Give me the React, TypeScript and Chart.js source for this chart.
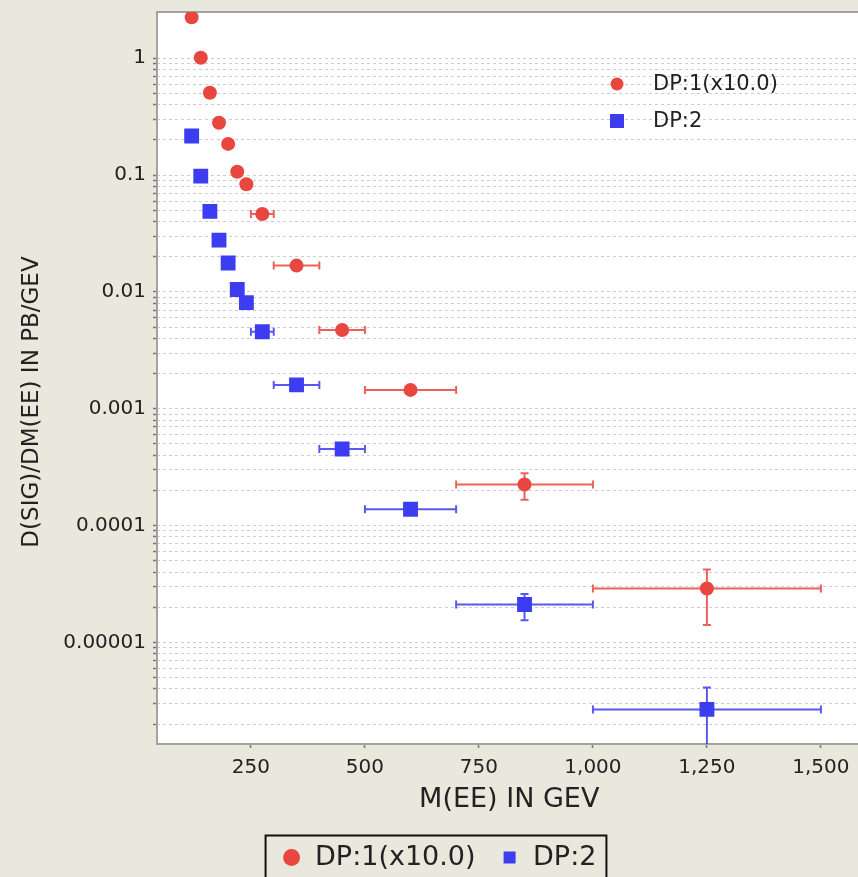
import React, { useEffect, useRef } from 'react';
import { Chart, registerables } from 'chart.js';

Chart.register(...registerables);

// ---- data ----
const massCenters = [120, 140, 160, 180, 200, 220, 240, 275, 350, 450, 600, 850, 1250];
const binLow = [110, 130, 150, 170, 190, 210, 230, 250, 300, 400, 500, 700, 1000];
const binHigh = [130, 150, 170, 190, 210, 230, 250, 300, 400, 500, 700, 1000, 1500];

const dp1Values = [2.24, 1.01, 0.507, 0.281, 0.185, 0.107, 0.0834, 0.0464, 0.0168, 0.00472, 0.00145, 0.000225, 0.0000289];
const dp1Low = [2.24, 1.01, 0.507, 0.281, 0.185, 0.107, 0.0834, 0.0464, 0.0168, 0.00472, 0.00145, 0.000166, 0.0000141];
const dp1High = [2.24, 1.01, 0.507, 0.281, 0.185, 0.107, 0.0834, 0.0464, 0.0168, 0.00472, 0.00145, 0.00028, 0.000042];

const dp2Values = [0.216, 0.098, 0.049, 0.0278, 0.0177, 0.0105, 0.0081, 0.00456, 0.0016, 0.000452, 0.000138, 0.0000211, 0.00000267];
const dp2Low = [0.216, 0.098, 0.049, 0.0278, 0.0177, 0.0105, 0.0081, 0.00456, 0.0016, 0.000452, 0.000138, 0.0000155, 0.000000001];
const dp2High = [0.216, 0.098, 0.049, 0.0278, 0.0177, 0.0105, 0.0081, 0.00456, 0.0016, 0.000452, 0.000138, 0.0000259, 0.00000412];

const seriesLabels = ['DP:1(x10.0)', 'DP:2'];

const xTickValues = [250, 500, 750, 1000, 1250, 1500];
const xTickLabels = ['250', '500', '750', '1,000', '1,250', '1,500'];
const yMajorValues = [1, 0.1, 0.01, 0.001, 0.0001, 0.00001];
const yMajorLabels = ['1', '0.1', '0.01', '0.001', '0.0001', '0.00001'];

const xTitle = 'M(EE) IN GEV';
const yTitle = 'D(SIG)/DM(EE) IN PB/GEV';

// ---- styles ----
const FONT = "'DejaVu Sans', sans-serif";
const BG = '#e9e8dc';
const RED = '#e8473f';
const BLUE = '#3c3cf0';
const RED_ERR = 'rgba(232,71,63,0.85)';
const BLUE_ERR = 'rgba(60,60,240,0.85)';
const GRID = '#cdcdcd';
const TEXT = '#222';

const X_MIN = 44;
const X_MAX = 1589;
const Y_MIN = 1.35e-6;
const Y_MAX = 2.49;

// minor + major log tick positions (1..9 x 10^n), up to 1
const yGridValues: number[] = [];
for (let e = -6; e <= 0; e++) {
  for (let m = 1; m <= 9; m++) {
    const v = parseFloat((m * Math.pow(10, e)).toPrecision(6));
    if (v >= Y_MIN && v <= 1) yGridValues.push(v);
  }
}

const errLows = [dp1Low, dp2Low];
const errHighs = [dp1High, dp2High];
const errColors = [RED_ERR, BLUE_ERR];

const plotFramePlugin = {
  id: 'plotFrame',
  beforeDraw(chart: any) {
    const { ctx, chartArea: a } = chart;
    ctx.save();
    ctx.fillStyle = '#ffffff';
    ctx.fillRect(a.left, a.top, a.right - a.left, a.bottom - a.top);
    ctx.restore();
  },
  beforeDatasetsDraw(chart: any) {
    const { ctx, chartArea: a } = chart;
    ctx.save();
    ctx.strokeStyle = '#a2a2a2';
    ctx.lineWidth = 2;
    ctx.strokeRect(a.left, a.top, a.right - a.left, a.bottom - a.top);
    ctx.restore();
  },
};

const errorBarPlugin = {
  id: 'errorBars',
  beforeDatasetsDraw(chart: any) {
    const { ctx, chartArea: a } = chart;
    const xs = chart.scales.x;
    const ys = chart.scales.y;
    ctx.save();
    ctx.beginPath();
    ctx.rect(a.left, a.top, a.right - a.left, a.bottom - a.top);
    ctx.clip();
    const cap = 4;
    const values = [dp1Values, dp2Values];
    values.forEach((vals, d) => {
      ctx.strokeStyle = errColors[d];
      ctx.lineWidth = 2;
      vals.forEach((v, i) => {
        const py = ys.getPixelForValue(v);
        const px = xs.getPixelForValue(massCenters[i]);
        const x1 = xs.getPixelForValue(binLow[i]);
        const x2 = xs.getPixelForValue(binHigh[i]);
        ctx.beginPath();
        ctx.moveTo(x1, py);
        ctx.lineTo(x2, py);
        ctx.moveTo(x1, py - cap);
        ctx.lineTo(x1, py + cap);
        ctx.moveTo(x2, py - cap);
        ctx.lineTo(x2, py + cap);
        ctx.stroke();
        const lo = errLows[d][i];
        const hi = errHighs[d][i];
        if (lo !== v || hi !== v) {
          const y1 = ys.getPixelForValue(hi);
          const y2 = ys.getPixelForValue(lo);
          ctx.beginPath();
          ctx.moveTo(px, y1);
          ctx.lineTo(px, y2);
          ctx.moveTo(px - cap, y1);
          ctx.lineTo(px + cap, y1);
          ctx.moveTo(px - cap, y2);
          ctx.lineTo(px + cap, y2);
          ctx.stroke();
        }
      });
    });
    ctx.restore();
  },
};

const annotationsPlugin = {
  id: 'annotations',
  afterDraw(chart: any) {
    const { ctx, chartArea: a } = chart;
    ctx.save();
    // y axis title
    ctx.fillStyle = TEXT;
    ctx.font = `23px ${FONT}`;
    ctx.textAlign = 'center';
    ctx.textBaseline = 'middle';
    ctx.translate(32, (a.top + a.bottom) / 2 + 24);
    ctx.rotate(-Math.PI / 2);
    ctx.fillText(yTitle, 0, 0);
    ctx.restore();

    // inner legend
    ctx.save();
    const lx = a.left + 460;
    const ly1 = a.top + 72;
    const ly2 = a.top + 109;
    ctx.fillStyle = RED;
    ctx.beginPath();
    ctx.arc(lx, ly1, 6.5, 0, Math.PI * 2);
    ctx.fill();
    ctx.fillStyle = BLUE;
    ctx.fillRect(lx - 7, ly2 - 7, 14, 14);
    ctx.fillStyle = TEXT;
    ctx.font = `21px ${FONT}`;
    ctx.textAlign = 'left';
    ctx.textBaseline = 'middle';
    ctx.fillText(seriesLabels[0], lx + 36, ly1 + 1);
    ctx.fillText(seriesLabels[1], lx + 36, ly2 + 1);
    ctx.restore();

    // border round the bottom legend
    const lg = chart.legend;
    if (lg && lg.legendHitBoxes && lg.legendHitBoxes.length) {
      const hb = lg.legendHitBoxes;
      const first = hb[0];
      const last = hb[hb.length - 1];
      const cy = first.top + first.height / 2;
      ctx.save();
      ctx.strokeStyle = '#111';
      ctx.lineWidth = 2;
      ctx.strokeRect(first.left - 16, cy - 22, last.left + last.width - first.left + 26, 60);
      ctx.restore();
    }
  },
};

export default function App() {
  const canvasRef = useRef<HTMLCanvasElement | null>(null);

  useEffect(() => {
    if (!canvasRef.current) return;
    const chart = new Chart(canvasRef.current, {
      type: 'scatter',
      data: {
        datasets: [
          {
            label: seriesLabels[0],
            data: massCenters.map((x, i) => ({ x, y: dp1Values[i] })),
            pointStyle: 'circle',
            pointRadius: 7,
            pointBackgroundColor: RED,
            pointBorderColor: RED,
            pointBorderWidth: 0,
            backgroundColor: RED,
            borderColor: RED,
            showLine: false,
          },
          {
            label: seriesLabels[1],
            data: massCenters.map((x, i) => ({ x, y: dp2Values[i] })),
            pointStyle: 'rect',
            pointRadius: 10.5,
            pointBackgroundColor: BLUE,
            pointBorderColor: BLUE,
            pointBorderWidth: 0,
            backgroundColor: BLUE,
            borderColor: BLUE,
            showLine: false,
          },
        ],
      },
      options: {
        animation: false,
        responsive: false,
        devicePixelRatio: 1,
        layout: { padding: { top: 12, left: 8, right: 2, bottom: 0 } },
        plugins: {
          tooltip: { enabled: false },
          legend: {
            display: true,
            position: 'bottom',
            labels: {
              usePointStyle: true,
              boxWidth: 20,
              boxHeight: 12,
              padding: 24,
              color: TEXT,
              font: { family: FONT, size: 27 },
            },
          },
        },
        scales: {
          x: {
            type: 'linear',
            min: X_MIN,
            max: X_MAX,
            afterBuildTicks: (scale: any) => {
              scale.ticks = xTickValues.map((v) => ({ value: v }));
            },
            afterFit: (scale: any) => {
              scale.height = 76;
              scale.paddingLeft = 0;
              scale.paddingRight = 0;
            },
            ticks: {
              autoSkip: false,
              maxRotation: 0,
              padding: 8,
              color: TEXT,
              font: { family: FONT, size: 20 },
              callback: (value: any) => {
                const i = xTickValues.indexOf(Number(value));
                return i >= 0 ? xTickLabels[i] : '';
              },
            },
            grid: {
              drawOnChartArea: false,
              drawTicks: true,
              tickLength: 4,
              tickColor: '#777',
              tickWidth: 1.5,
            },
            border: { display: false },
            title: {
              display: true,
              text: xTitle,
              color: TEXT,
              font: { family: FONT, size: 27 },
              padding: { top: 0, bottom: 4 },
            },
          },
          y: {
            type: 'logarithmic',
            min: Y_MIN,
            max: Y_MAX,
            afterBuildTicks: (scale: any) => {
              scale.ticks = yGridValues.map((v) => ({ value: v }));
            },
            afterFit: (scale: any) => {
              scale.width = 149;
              scale.paddingTop = 0;
              scale.paddingBottom = 0;
            },
            ticks: {
              autoSkip: false,
              padding: 7,
              color: TEXT,
              font: { family: FONT, size: 20 },
              callback: (value: any) => {
                const v = Number(value);
                const i = yMajorValues.findIndex((m) => Math.abs(v - m) / m < 1e-6);
                return i >= 0 ? yMajorLabels[i] : '';
              },
            },
            grid: {
              color: GRID,
              lineWidth: 1,
              drawTicks: true,
              tickLength: 4,
              tickColor: '#777',
              tickWidth: 1.5,
            },
            border: { display: false, dash: [3, 3] },
            title: { display: false },
          },
        },
      },
      plugins: [plotFramePlugin, errorBarPlugin, annotationsPlugin],
    } as any);
    return () => chart.destroy();
  }, []);

  return (
    <div
      style={{
        position: 'fixed',
        left: 0,
        top: 0,
        width: 858,
        height: 877,
        overflow: 'hidden',
        background: BG,
      }}
    >
      <canvas
        ref={canvasRef}
        width={872}
        height={881}
        style={{ display: 'block', width: 872, height: 881 }}
      />
    </div>
  );
}
